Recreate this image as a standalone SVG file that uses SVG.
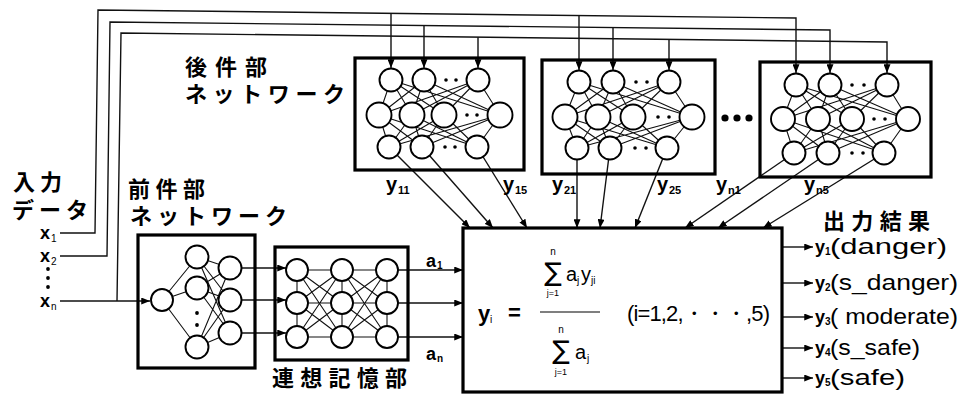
<svg xmlns="http://www.w3.org/2000/svg" width="963" height="395" viewBox="0 0 963 395">
<style>
.w{fill:none;stroke:#111;stroke-width:1.4}
.e{fill:none;stroke:#111;stroke-width:1.1}
.box{fill:none;stroke:#000;stroke-width:3.2}
.n{fill:#fff;stroke:#000;stroke-width:1.9}
.d{fill:#000}
.jp{font-family:"Noto Sans CJK JP","Noto Sans",sans-serif;font-weight:700;font-size:22px;fill:#000}
.lt{font-family:"Liberation Sans",Arial,sans-serif;fill:#000}
.yb{font-family:"Liberation Sans",Arial,sans-serif;font-weight:700;fill:#000}
</style>
<defs>
<marker id="ah" viewBox="0 0 10 8" refX="10" refY="4" markerWidth="9" markerHeight="7" markerUnits="userSpaceOnUse" orient="auto"><path d="M0,0 L10,4 L0,8 z" fill="#000"/></marker>
</defs>
<rect width="963" height="395" fill="#fff"/>

<g id="connectors">
<polyline class="w" points="60,233 95,233 98,10 796,18 796,73" marker-end="url(#ah)"/>
<line class="w" x1="391" y1="13.4" x2="391" y2="68" marker-end="url(#ah)"/>
<line class="w" x1="579" y1="15.5" x2="579" y2="70" marker-end="url(#ah)"/>
<polyline class="w" points="60,256 107,256 110,22 830,30 830,73" marker-end="url(#ah)"/>
<line class="w" x1="424" y1="25.5" x2="424" y2="68" marker-end="url(#ah)"/>
<line class="w" x1="613" y1="27.6" x2="613" y2="70" marker-end="url(#ah)"/>
<polyline class="w" points="117,301 121,33 887,42 887,73" marker-end="url(#ah)"/>
<line class="w" x1="478" y1="37.2" x2="478" y2="68" marker-end="url(#ah)"/>
<line class="w" x1="669" y1="39.5" x2="669" y2="70" marker-end="url(#ah)"/>
<line class="w" x1="60" y1="301" x2="150" y2="301" marker-end="url(#ah)"/>
<line class="w" x1="389" y1="147" x2="470" y2="228" marker-end="url(#ah)"/>
<line class="w" x1="422" y1="147" x2="493" y2="228" marker-end="url(#ah)"/>
<line class="w" x1="477" y1="147" x2="527" y2="228" marker-end="url(#ah)"/>
<line class="w" x1="577" y1="148" x2="577" y2="228" marker-end="url(#ah)"/>
<line class="w" x1="610" y1="148" x2="600" y2="228" marker-end="url(#ah)"/>
<line class="w" x1="667" y1="148" x2="635" y2="228" marker-end="url(#ah)"/>
<line class="w" x1="794" y1="153" x2="685" y2="228" marker-end="url(#ah)"/>
<line class="w" x1="828" y1="153" x2="718" y2="228" marker-end="url(#ah)"/>
<line class="w" x1="884" y1="153" x2="763" y2="228" marker-end="url(#ah)"/>
<line class="w" x1="230" y1="268" x2="286" y2="268" marker-end="url(#ah)"/>
<line class="w" x1="230" y1="300" x2="286" y2="300" marker-end="url(#ah)"/>
<line class="w" x1="230" y1="333" x2="286" y2="333" marker-end="url(#ah)"/>
<line class="w" x1="387" y1="270" x2="463" y2="270" marker-end="url(#ah)"/>
<line class="w" x1="387" y1="303" x2="463" y2="303" marker-end="url(#ah)"/>
<line class="w" x1="387" y1="337" x2="463" y2="337" marker-end="url(#ah)"/>
<line class="w" x1="782" y1="247" x2="813" y2="247" marker-end="url(#ah)"/>
<line class="w" x1="782" y1="283" x2="813" y2="283" marker-end="url(#ah)"/>
<line class="w" x1="782" y1="317" x2="813" y2="317" marker-end="url(#ah)"/>
<line class="w" x1="782" y1="348" x2="813" y2="348" marker-end="url(#ah)"/>
<line class="w" x1="782" y1="378" x2="813" y2="378" marker-end="url(#ah)"/>
</g>

<g id="input-labels">
<text class="jp" x="13" y="190" textLength="49" lengthAdjust="spacing">入力</text>
<text class="jp" x="12" y="218" textLength="76" lengthAdjust="spacing">データ</text>
<text class="yb" x="40" y="239" font-size="18">x</text><text class="lt" x="51" y="242" font-size="10">1</text>
<text class="yb" x="40" y="262" font-size="18">x</text><text class="lt" x="51" y="265" font-size="10">2</text>
<circle class="d" cx="48" cy="269" r="1.9"/>
<circle class="d" cx="48" cy="278" r="1.9"/>
<circle class="d" cx="48" cy="287" r="1.9"/>
<text class="yb" x="40" y="307" font-size="18">x</text><text class="lt" x="51" y="310" font-size="10">n</text>
</g>

<g id="consequent-label">
<text class="jp" x="185" y="75" textLength="82" lengthAdjust="spacing">後件部</text>
<text class="jp" x="185" y="102" textLength="160" lengthAdjust="spacing">ネットワーク</text>
</g>

<g id="consequent-1">
<path class="e" d="M391 80L379 115M391 80L412 115M391 80L444 115M391 80L500 115M424 80L379 115M424 80L412 115M424 80L444 115M424 80L500 115M478 80L379 115M478 80L412 115M478 80L444 115M478 80L500 115M379 115L389 147M379 115L422 147M379 115L477 147M412 115L389 147M412 115L422 147M412 115L477 147M444 115L389 147M444 115L422 147M444 115L477 147M500 115L389 147M500 115L422 147M500 115L477 147"/>
<rect class="box" x="355" y="58" width="169" height="112"/>
<circle class="n" cx="391" cy="80" r="11.5"/><circle class="n" cx="424" cy="80" r="11.5"/><circle class="n" cx="478" cy="80" r="11.5"/>
<circle class="n" cx="379" cy="115" r="12.5"/><circle class="n" cx="412" cy="115" r="12.5"/><circle class="n" cx="444" cy="115" r="12.5"/><circle class="n" cx="500" cy="115" r="12.5"/>
<circle class="n" cx="389" cy="147" r="11.5"/><circle class="n" cx="422" cy="147" r="11.5"/><circle class="n" cx="477" cy="147" r="11.5"/>
<circle class="d" cx="446" cy="80" r="1.8"/><circle class="d" cx="456" cy="80" r="1.8"/>
<circle class="d" cx="467" cy="115" r="1.8"/><circle class="d" cx="477" cy="115" r="1.8"/>
<circle class="d" cx="445" cy="147" r="1.8"/><circle class="d" cx="455" cy="147" r="1.8"/>
</g>

<g id="consequent-2">
<path class="e" d="M579 82L565 117M579 82L598 117M579 82L633 117M579 82L692 117M613 82L565 117M613 82L598 117M613 82L633 117M613 82L692 117M669 82L565 117M669 82L598 117M669 82L633 117M669 82L692 117M565 117L577 148M565 117L610 148M565 117L667 148M598 117L577 148M598 117L610 148M598 117L667 148M633 117L577 148M633 117L610 148M633 117L667 148M692 117L577 148M692 117L610 148M692 117L667 148"/>
<rect class="box" x="542" y="60" width="173" height="114"/>
<circle class="n" cx="579" cy="82" r="11.5"/><circle class="n" cx="613" cy="82" r="11.5"/><circle class="n" cx="669" cy="82" r="11.5"/>
<circle class="n" cx="565" cy="117" r="12.5"/><circle class="n" cx="598" cy="117" r="12.5"/><circle class="n" cx="633" cy="117" r="12.5"/><circle class="n" cx="692" cy="117" r="12.5"/>
<circle class="n" cx="577" cy="148" r="11.5"/><circle class="n" cx="610" cy="148" r="11.5"/><circle class="n" cx="667" cy="148" r="11.5"/>
<circle class="d" cx="636" cy="82" r="1.8"/><circle class="d" cx="647" cy="82" r="1.8"/>
<circle class="d" cx="658" cy="117" r="1.8"/><circle class="d" cx="669" cy="117" r="1.8"/>
<circle class="d" cx="635" cy="148" r="1.8"/><circle class="d" cx="646" cy="148" r="1.8"/>
</g>

<g id="ellipsis">
<circle class="d" cx="725" cy="118" r="3.6"/><circle class="d" cx="737" cy="118" r="3.6"/><circle class="d" cx="749" cy="118" r="3.6"/>
</g>

<g id="consequent-n">
<path class="e" d="M796 85L783 119M796 85L818 119M796 85L852 119M796 85L908 119M830 85L783 119M830 85L818 119M830 85L852 119M830 85L908 119M887 85L783 119M887 85L818 119M887 85L852 119M887 85L908 119M783 119L794 153M783 119L828 153M783 119L884 153M818 119L794 153M818 119L828 153M818 119L884 153M852 119L794 153M852 119L828 153M852 119L884 153M908 119L794 153M908 119L828 153M908 119L884 153"/>
<rect class="box" x="760" y="62" width="171" height="115"/>
<circle class="n" cx="796" cy="85" r="11.5"/><circle class="n" cx="830" cy="85" r="11.5"/><circle class="n" cx="887" cy="85" r="11.5"/>
<circle class="n" cx="783" cy="119" r="12"/><circle class="n" cx="818" cy="119" r="12"/><circle class="n" cx="852" cy="119" r="12"/><circle class="n" cx="908" cy="119" r="12"/>
<circle class="n" cx="794" cy="153" r="11.5"/><circle class="n" cx="828" cy="153" r="11.5"/><circle class="n" cx="884" cy="153" r="11.5"/>
<circle class="d" cx="852" cy="85" r="1.8"/><circle class="d" cx="864" cy="85" r="1.8"/>
<circle class="d" cx="874" cy="119" r="1.8"/><circle class="d" cx="885" cy="119" r="1.8"/>
<circle class="d" cx="852" cy="153" r="1.8"/><circle class="d" cx="863" cy="153" r="1.8"/>
</g>

<g id="consequent-out-labels">
<text class="yb" x="386" y="191" font-size="20">y</text><text class="yb" x="398" y="194" font-size="11">11</text>
<text class="yb" x="503" y="191" font-size="20">y</text><text class="yb" x="515" y="194" font-size="11">15</text>
<text class="yb" x="552" y="191" font-size="20">y</text><text class="yb" x="564" y="194" font-size="11">21</text>
<text class="yb" x="657" y="191" font-size="20">y</text><text class="yb" x="669" y="194" font-size="11">25</text>
<text class="yb" x="716" y="191" font-size="20">y</text><text class="yb" x="728" y="194" font-size="11">n1</text>
<text class="yb" x="804" y="191" font-size="20">y</text><text class="yb" x="816" y="194" font-size="11">n5</text>
</g>

<g id="antecedent">
<text class="jp" x="128" y="197" textLength="77" lengthAdjust="spacing">前件部</text>
<text class="jp" x="130" y="224" textLength="157" lengthAdjust="spacing">ネットワーク</text>
<path class="e" d="M162 300L197 257M162 300L197 288M162 300L197 347M197 257L230 268M197 257L230 300M197 257L230 333M197 288L230 268M197 288L230 300M197 288L230 333M197 347L230 268M197 347L230 300M197 347L230 333"/>
<rect class="box" x="138" y="235" width="117" height="133"/>
<circle class="n" cx="162" cy="300" r="11"/>
<circle class="n" cx="197" cy="257" r="11.5"/><circle class="n" cx="197" cy="288" r="11.5"/><circle class="n" cx="197" cy="347" r="11.5"/>
<circle class="d" cx="197" cy="313" r="1.9"/><circle class="d" cx="197" cy="325" r="1.9"/>
<circle class="n" cx="230" cy="268" r="11.5"/><circle class="n" cx="230" cy="300" r="11.5"/><circle class="n" cx="230" cy="333" r="11.5"/>
</g>

<g id="associative-memory">
<path class="e" d="M297 270L342 270M297 270L342 303M297 270L342 337M297 303L342 270M297 303L342 303M297 303L342 337M297 337L342 270M297 337L342 303M297 337L342 337M342 270L387 270M342 270L387 303M342 270L387 337M342 303L387 270M342 303L387 303M342 303L387 337M342 337L387 270M342 337L387 303M342 337L387 337M297 270L297 337M342 270L342 337M387 270L387 337"/>
<rect class="box" x="275" y="247" width="133" height="113"/>
<circle class="n" cx="297" cy="270" r="11"/><circle class="n" cx="297" cy="303" r="11"/><circle class="n" cx="297" cy="337" r="11"/>
<circle class="n" cx="342" cy="270" r="11"/><circle class="n" cx="342" cy="303" r="11"/><circle class="n" cx="342" cy="337" r="11"/>
<circle class="n" cx="387" cy="270" r="11"/><circle class="n" cx="387" cy="303" r="11"/><circle class="n" cx="387" cy="337" r="11"/>
<text class="jp" x="272" y="386" textLength="135" lengthAdjust="spacing">連想記憶部</text>
<text class="yb" x="426" y="267" font-size="18">a</text><text class="yb" x="437" y="269" font-size="10">1</text>
<text class="yb" x="426" y="360" font-size="18">a</text><text class="yb" x="437" y="362" font-size="10">n</text>
</g>

<g id="formula">
<rect class="box" x="463" y="228" width="319" height="164"/>
<text class="lt" x="478" y="321" font-size="22" font-weight="700">y</text><text class="lt" x="490" y="323" font-size="10">i</text>
<text class="lt" x="508" y="320" font-size="22" font-weight="700">=</text>
<line x1="540" y1="312" x2="600" y2="312" stroke="#000" stroke-width="1.2"/>
<text class="lt" x="553" y="255" font-size="10" text-anchor="middle">n</text>
<text x="553" y="281" font-size="26" text-anchor="middle" font-family="DejaVu Sans,sans-serif" fill="#000">∑</text>
<text class="lt" x="553" y="296" font-size="9" text-anchor="middle">j=1</text>
<text class="lt" x="566" y="281" font-size="20">a</text><text class="lt" x="577" y="284" font-size="10">j</text>
<text class="lt" x="581" y="281" font-size="20">y</text><text class="lt" x="591" y="284" font-size="10">ji</text>
<text class="lt" x="561" y="333" font-size="10" text-anchor="middle">n</text>
<text x="561" y="359" font-size="26" text-anchor="middle" font-family="DejaVu Sans,sans-serif" fill="#000">∑</text>
<text class="lt" x="561" y="375" font-size="9" text-anchor="middle">j=1</text>
<text class="lt" x="575" y="359" font-size="20">a</text><text class="lt" x="587" y="362" font-size="10">j</text>
<text class="lt" x="627" y="321" font-size="22" textLength="143" lengthAdjust="spacing">(i=1,2,・・・,5)</text>
</g>

<g id="outputs">
<text class="jp" x="823" y="229" textLength="107" lengthAdjust="spacing">出力結果</text>
<text class="yb" x="815" y="253" font-size="18">y</text><text class="yb" x="825" y="255" font-size="10">1</text>
<text class="lt" x="830" y="254" font-size="22" textLength="117" lengthAdjust="spacingAndGlyphs">(danger)</text>
<text class="yb" x="815" y="289" font-size="18">y</text><text class="yb" x="825" y="291" font-size="10">2</text>
<text class="lt" x="830" y="290" font-size="22" textLength="128" lengthAdjust="spacingAndGlyphs">(s_danger)</text>
<text class="yb" x="815" y="323" font-size="18">y</text><text class="yb" x="825" y="325" font-size="10">3</text>
<text class="lt" x="830" y="324" font-size="22" textLength="128" lengthAdjust="spacingAndGlyphs">( moderate)</text>
<text class="yb" x="815" y="354" font-size="18">y</text><text class="yb" x="825" y="356" font-size="10">4</text>
<text class="lt" x="830" y="355" font-size="22" textLength="90" lengthAdjust="spacingAndGlyphs">(s_safe)</text>
<text class="yb" x="815" y="384" font-size="18">y</text><text class="yb" x="825" y="386" font-size="10">5</text>
<text class="lt" x="830" y="385" font-size="22" textLength="75" lengthAdjust="spacingAndGlyphs">(safe)</text>
</g>
</svg>
